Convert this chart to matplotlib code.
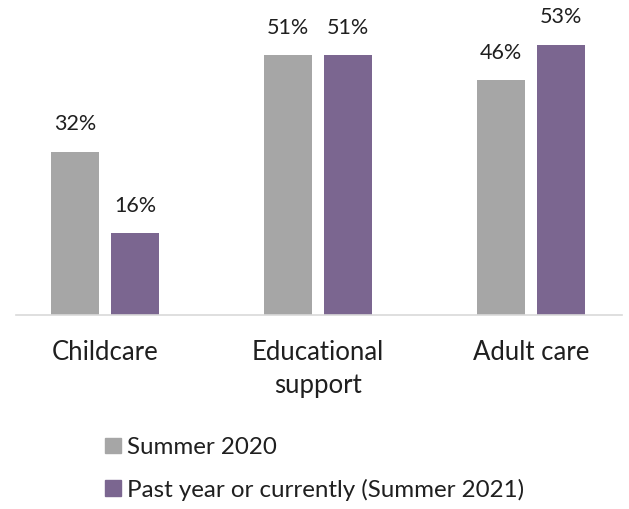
import numpy as np
import matplotlib
matplotlib.use("Agg")
from matplotlib import pyplot as plt
from matplotlib.patches import Patch

categories = ["Childcare", "Educational\nsupport", "Adult care"]
summer_2020 = [32, 51, 46]
summer_2021 = [16, 51, 53]
series_names = ["Summer 2020", "Past year or currently (Summer 2021)"]

GREY = "#A6A6A6"
PURPLE = "#7B6690"
TEXT = "#1F1F1F"


def main():
  plt.rcParams['font.family'] = ['Lato', 'DejaVu Sans']
  fig = plt.figure(figsize=(6.29, 5.09), dpi=100)
  # axes box in pixels: x 16..622, baseline at y=314.5, 60% at the top
  ax = fig.add_axes([16 / 629, 1 - 314.5 / 509, 606 / 629, 305.4 / 509])

  x = np.arange(len(categories))
  width = 0.225
  offset = 0.142
  b1 = ax.bar(x - offset, summer_2020, width, color=GREY)
  b2 = ax.bar(x + offset, summer_2021, width, color=PURPLE)

  # value labels above each bar
  for bars, vals in ((b1, summer_2020), (b2, summer_2021)):
    for rect, v in zip(bars, vals):
      ax.annotate(f"{v}%", (rect.get_x() + rect.get_width() / 2, v),
                  xytext=(0, 12.5), textcoords="offset points",
                  ha="center", va="bottom", fontsize=15.5, color=TEXT)

  ax.set_xlim(-0.418, 2.427)
  ax.set_ylim(0, 60)
  ax.set_xticks(x)
  ax.set_xticklabels(categories, fontsize=18.5, color=TEXT, linespacing=1.4)
  ax.tick_params(axis="x", length=0, pad=18)
  ax.set_yticks([])
  for side in ("top", "right", "left"):
    ax.spines[side].set_visible(False)
  ax.spines["bottom"].set_color("#D9D9D9")
  ax.spines["bottom"].set_linewidth(1.2)

  handles = [Patch(color=GREY), Patch(color=PURPLE)]
  fig.legend(handles, series_names, loc="upper left",
             bbox_to_anchor=(105 / 629, 1 - 437 / 509), frameon=False,
             fontsize=17.4, handlelength=0.66, handleheight=0.62,
             handletextpad=0.26, labelspacing=0.85, borderpad=0,
             borderaxespad=0, labelcolor=TEXT)

  fig.savefig("out.png", dpi=100)


if __name__ == '__main__':
  main()
